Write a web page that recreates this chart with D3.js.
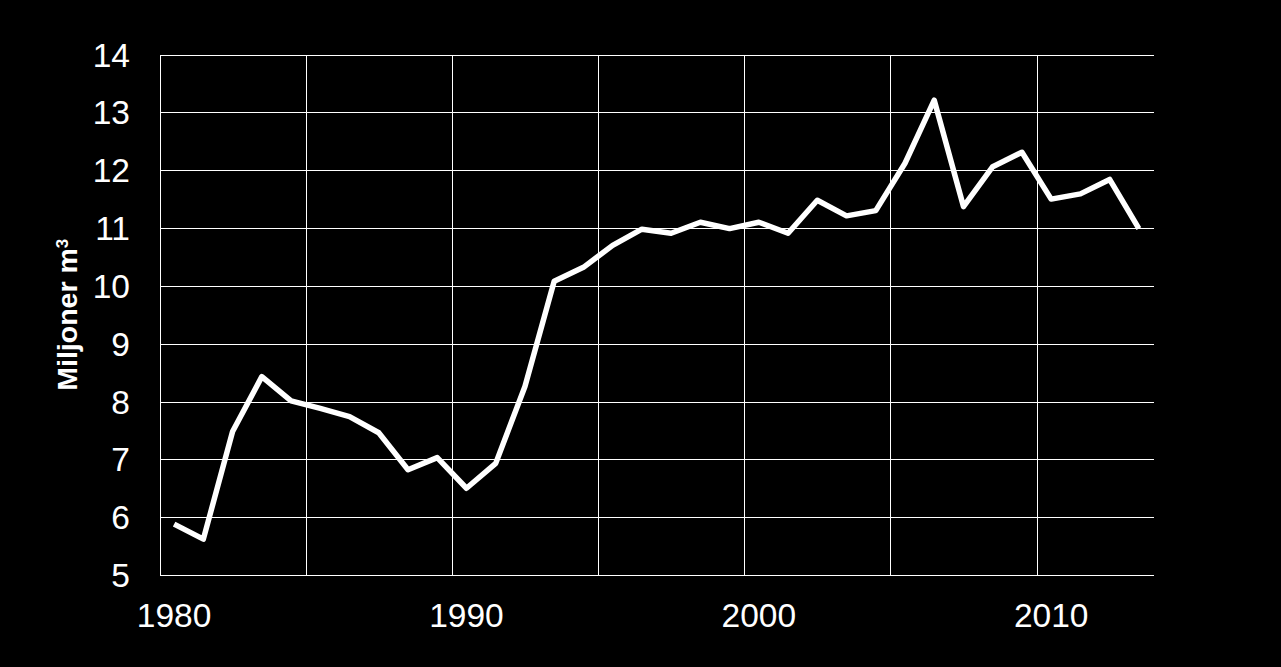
<!DOCTYPE html>
<html>
<head>
<meta charset="utf-8">
<script src="https://cdn.jsdelivr.net/npm/d3@7"></script>
<style>
	html, body { margin: 0; padding: 0; background: #000; }
	svg { display: block; }
	.tick-label { fill: #fff; font-family: "Liberation Sans", Arial, sans-serif; font-size: 33.5px; }
	.axis-title { fill: #fff; font-family: "Liberation Sans", Arial, sans-serif; font-size: 28.5px; font-weight: bold; }
	.grid { stroke: #fff; stroke-width: 1; shape-rendering: crispEdges; }
</style>
</head>
<body>
<svg id="plot" width="1281" height="667"></svg>
<script>

function whenDocumentLoaded(action) {
	if (document.readyState === "loading") {
		document.addEventListener("DOMContentLoaded", action);
	} else {
		action();
	}
}

const YEARS = [1980, 1981, 1982, 1983, 1984, 1985, 1986, 1987, 1988, 1989,
	1990, 1991, 1992, 1993, 1994, 1995, 1996, 1997, 1998, 1999,
	2000, 2001, 2002, 2003, 2004, 2005, 2006, 2007, 2008, 2009,
	2010, 2011, 2012, 2013];
const VOLUMES = [5.88, 5.62, 7.48, 8.43, 8.01, 7.88, 7.74, 7.46, 6.82, 7.03,
	6.50, 6.93, 8.26, 10.08, 10.32, 10.70, 10.98, 10.91, 11.10, 10.99,
	11.10, 10.91, 11.48, 11.21, 11.30, 12.12, 13.21, 11.37, 12.06, 12.31,
	11.50, 11.59, 11.84, 10.99];
const Y_TICKS = [5, 6, 7, 8, 9, 10, 11, 12, 13, 14];
const X_LABELS = [1980, 1990, 2000, 2010];
const X_GRID = [1980, 1985, 1990, 1995, 2000, 2005, 2010];

const LEFT = 159.5, RIGHT = 1153.5, TOP = 54.5, BOTTOM = 575;

class LineChart {
	constructor(html_id, data) {
		const svg = d3.select(`#${html_id}`);

		const x = d3.scaleBand().domain(YEARS).range([LEFT, RIGHT]);
		const y = d3.scaleLinear().domain([5, 14]).range([BOTTOM, TOP]);

		// horizontal gridlines
		svg.selectAll("hgrid")
			.data(Y_TICKS)
			.enter().append("line")
			.attr("class", "grid")
			.attr("x1", LEFT).attr("x2", RIGHT)
			.attr("y1", (d) => Math.round(y(d)) + 0.5).attr("y2", (d) => Math.round(y(d)) + 0.5);

		// vertical gridlines between categories
		svg.selectAll("vgrid")
			.data(X_GRID)
			.enter().append("line")
			.attr("class", "grid")
			.attr("x1", (d) => Math.round(x(d)) + 0.5).attr("x2", (d) => Math.round(x(d)) + 0.5)
			.attr("y1", TOP).attr("y2", BOTTOM);

		// Y labels
		svg.selectAll("yLabels")
			.data(Y_TICKS)
			.enter().append("text")
			.attr("class", "tick-label")
			.attr("x", 130)
			.attr("y", (d) => y(d))
			.attr("dy", "0.36em")
			.attr("text-anchor", "end")
			.text((d) => `${d}`);

		// X labels
		svg.selectAll("xLabels")
			.data(X_LABELS)
			.enter().append("text")
			.attr("class", "tick-label")
			.attr("x", (d) => x(d) + x.bandwidth() / 2)
			.attr("y", 627)
			.attr("text-anchor", "middle")
			.text((d) => `${d}`);

		// axis title
		const title = svg.append("text")
			.attr("class", "axis-title")
			.attr("transform", `translate(77, ${(TOP + BOTTOM) / 2}) rotate(-90)`)
			.attr("text-anchor", "middle");
		title.append("tspan").text("Miljoner m");
		title.append("tspan").attr("baseline-shift", "super").attr("font-size", "17px").text("3");

		const line = d3.line()
			.x((d) => x(d.year) + x.bandwidth() / 2)
			.y((d) => y(d.value));

		svg.append("path")
			.datum(data)
			.attr("d", line)
			.attr("fill", "none")
			.attr("stroke", "#fff")
			.attr("stroke-width", 5.5)
			.attr("stroke-linejoin", "round");
	}
}

whenDocumentLoaded(() => {
	const data = YEARS.map((year, i) => ({ 'year': year, 'value': VOLUMES[i] }));
	const plot = new LineChart('plot', data);
});
</script>
</body>
</html>
